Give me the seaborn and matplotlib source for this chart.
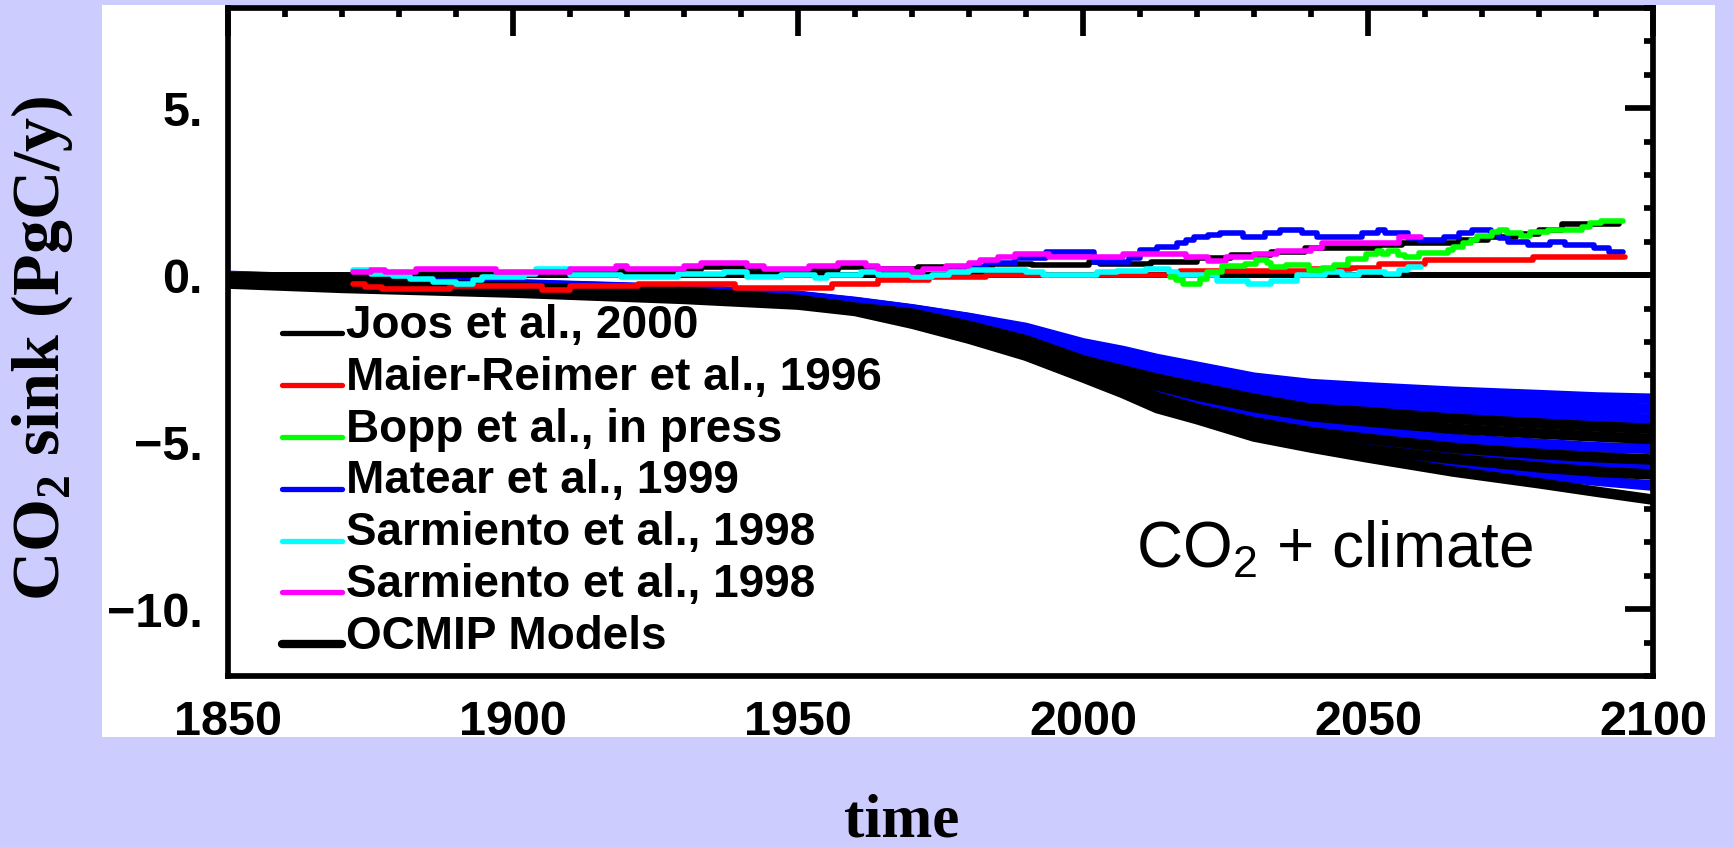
import numpy as np
import matplotlib
matplotlib.use("Agg")
import matplotlib.pyplot as plt
from matplotlib import font_manager
from matplotlib.lines import Line2D
from matplotlib.patches import Rectangle
from matplotlib.ticker import MultipleLocator, FuncFormatter
from matplotlib.legend_handler import HandlerLine2D
import seaborn as sns

# ---------------- data (PgC/y) ----------------
joos_years = [1850, 1878, 1905, 1918, 1920, 1930, 1933, 1941, 1952, 1957, 1962, 1971, 1984, 1991, 2001,
              2003, 2012, 2020, 2026, 2033, 2039, 2052, 2056, 2066, 2071, 2076, 2080, 2084, 2094]
joos_vals = [0.0, 0.03, 0.06, 0.15, 0.08, 0.15, 0.25, 0.15, 0.15, 0.25, 0.2, 0.25, 0.33, 0.3, 0.4,
             0.35, 0.39, 0.5, 0.6, 0.68, 0.82, 0.9, 0.97, 1.05, 1.13, 1.24, 1.36, 1.53, 1.53]

maier_years = [1872, 1874, 1877, 1889, 1905, 1910, 1922, 1939, 1956, 1964, 1973, 1983, 2017, 2040,
               2047, 2052, 2060, 2079, 2095]
maier_vals = [-0.25, -0.35, -0.42, -0.33, -0.43, -0.33, -0.25, -0.37, -0.25, -0.15, -0.06, 0.0, 0.12,
              0.2, 0.23, 0.35, 0.45, 0.55, 0.55]

bopp_years = [2015.2, 2016.3, 2017.6, 2020.5, 2021.7, 2024.3, 2028.4, 2030.4, 2032.2, 2033, 2035.6,
              2039.7, 2042, 2044, 2046.5, 2049.7, 2051.5, 2052.5, 2053.5, 2055.3, 2056.5, 2059, 2064,
              2064.9, 2066.6, 2068, 2069.2, 2071.8, 2073, 2074.3, 2076.8, 2078.5, 2081.5, 2087.6,
              2089, 2090.8, 2094.8]
bopp_vals = [-0.05, -0.15, -0.25, -0.12, 0.1, 0.27, 0.35, 0.46, 0.36, 0.26, 0.31, 0.17, 0.23, 0.32,
             0.48, 0.64, 0.73, 0.62, 0.73, 0.6, 0.53, 0.65, 0.76, 0.85, 0.95, 1.05, 1.16, 1.28, 1.36,
             1.26, 1.18, 1.3, 1.36, 1.45, 1.55, 1.62, 1.62]

matear_years = [1978, 1983, 1988, 1993.5, 2002, 2008, 2010, 2013, 2016.5, 2018, 2019.5, 2022, 2024,
                2028, 2032, 2034.5, 2038.5, 2041, 2049, 2051.7, 2053, 2057, 2059, 2063.3, 2066,
                2068.3, 2071.5, 2073, 2074.5, 2078, 2082, 2084.5, 2089.6, 2092.2, 2094.8]
matear_vals = [0.25, 0.38, 0.51, 0.68, 0.41, 0.51, 0.76, 0.85, 0.95, 1.05, 1.14, 1.2, 1.26, 1.15,
               1.25, 1.36, 1.25, 1.15, 1.25, 1.36, 1.25, 1.1, 1.05, 1.15, 1.25, 1.36, 1.25, 1.1, 1.0,
               0.9, 1.0, 0.9, 0.8, 0.7, 0.7]

sarm_a_years = [1872, 1875, 1879, 1882, 1886, 1890, 1893, 1894.5, 1902, 1904, 1910, 1919, 1929, 1937,
                1941, 1947, 1953, 1955, 1961, 1964, 1970, 1973.5, 1976.5, 1980, 1990, 1993, 2002.5,
                2006, 2011, 2015, 2016.5, 2023.5, 2029, 2033, 2037.5, 2042.5, 2045.5, 2048.5, 2053,
                2055.5, 2057, 2059.3]
sarm_a_vals = [0.15, 0.05, -0.02, -0.1, -0.2, -0.25, -0.15, -0.05, 0.05, 0.2, 0.02, -0.05, 0.05, 0.1,
               -0.04, 0.0, -0.08, 0.0, 0.1, 0.0, -0.05, 0.0, 0.1, 0.17, 0.1, 0.0, 0.1, 0.12, 0.2, 0.1,
               0.0, -0.18, -0.27, -0.18, 0.0, 0.1, 0.0, 0.1, 0.05, 0.15, 0.25, 0.25]

sarm_b_years = [1872, 1875, 1877.5, 1883, 1897, 1910, 1918, 1920, 1930, 1933, 1941, 1944, 1952, 1957,
                1962, 1964, 1970, 1972, 1976, 1980, 1982, 1985, 1988, 1994, 2007, 2018, 2022, 2025,
                2030, 2034, 2040, 2042, 2055.5, 2059.3]
sarm_b_vals = [0.09, 0.15, 0.1, 0.2, 0.1, 0.2, 0.28, 0.2, 0.28, 0.36, 0.28, 0.2, 0.28, 0.36, 0.28, 0.2,
               0.1, 0.2, 0.28, 0.36, 0.45, 0.53, 0.62, 0.53, 0.63, 0.53, 0.43, 0.54, 0.64, 0.71, 0.8,
               0.97, 1.14, 1.14]

# OCMIP model runs
ocmip_years = [1850, 1870, 1900, 1930, 1950, 1960, 1970, 1980, 1990, 2000, 2007, 2013, 2020, 2030,
               2040, 2050, 2065, 2080, 2090, 2100]
ocmip_blue_1 = [-0.02, -0.13, -0.27, -0.42, -0.62, -0.8, -1.02, -1.28, -1.58, -2.04, -2.27, -2.51,
                -2.74, -3.07, -3.26, -3.36, -3.49, -3.59, -3.66, -3.7]
ocmip_blue_2 = [-0.03, -0.14, -0.28, -0.43, -0.63, -0.81, -1.03, -1.29, -1.62, -2.15, -2.41, -2.66,
                -2.9, -3.24, -3.48, -3.58, -3.75, -3.87, -3.95, -4.0]
ocmip_blue_3 = [-0.04, -0.15, -0.29, -0.44, -0.64, -0.82, -1.04, -1.3, -1.67, -2.26, -2.56, -2.81,
                -3.06, -3.41, -3.71, -3.81, -4.01, -4.15, -4.24, -4.3]
ocmip_blue_4 = [-0.12, -0.26, -0.42, -0.58, -0.8, -1.0, -1.3, -1.7, -2.15, -2.75, -3.15, -3.52,
                -3.85, -4.2, -4.47, -4.65, -4.9, -5.05, -5.15, -5.2]
ocmip_blue_5 = [-0.16, -0.3, -0.46, -0.64, -0.82, -1.01, -1.35, -1.78, -2.27, -2.85, -3.3, -3.72,
                -4.02, -4.5, -4.85, -5.08, -5.35, -5.55, -5.65, -5.75]
ocmip_blue_6 = [-0.22, -0.35, -0.5, -0.68, -0.85, -1.04, -1.4, -1.85, -2.35, -2.98, -3.45, -3.9,
                -4.2, -4.7, -5.0, -5.3, -5.72, -5.98, -6.15, -6.3]
ocmip_black_1 = [-0.08, -0.2, -0.36, -0.5, -0.74, -0.97, -1.15, -1.52, -1.95, -2.55, -2.85, -3.1,
                 -3.35, -3.7, -4.0, -4.1, -4.3, -4.44, -4.53, -4.6]
ocmip_black_2 = [-0.1, -0.23, -0.4, -0.55, -0.78, -1.03, -1.22, -1.62, -2.05, -2.65, -3.0, -3.3,
                 -3.6, -3.95, -4.22, -4.38, -4.6, -4.74, -4.83, -4.9]
ocmip_black_3 = [-0.14, -0.28, -0.44, -0.61, -0.8, -1.0, -1.33, -1.75, -2.2, -2.8, -3.22, -3.65,
                 -4.0, -4.4, -4.7, -4.9, -5.17, -5.35, -5.45, -5.52]
ocmip_black_4 = [-0.19, -0.33, -0.48, -0.66, -0.83, -1.02, -1.38, -1.82, -2.32, -2.92, -3.4, -3.82,
                 -4.12, -4.62, -4.95, -5.22, -5.5, -5.75, -5.88, -5.97]
ocmip_black_5 = [-0.25, -0.38, -0.52, -0.71, -0.88, -1.07, -1.45, -1.9, -2.41, -3.06, -3.53, -3.98,
                 -4.31, -4.83, -5.16, -5.46, -5.88, -6.23, -6.48, -6.72]

labels = ["Joos et al., 2000", "Maier-Reimer et al., 1996", "Bopp et al., in press",
          "Matear et al., 1999", "Sarmiento et al., 1998", "Sarmiento et al., 1998", "OCMIP Models"]
x_ticks = [1850, 1900, 1950, 2000, 2050, 2100]

# ---------------- styling ----------------
sns.set_theme(style="white")
available = {f.name for f in font_manager.fontManager.ttflist}
narrow = "Liberation Sans Narrow" if "Liberation Sans Narrow" in available else "Liberation Sans"
plt.rcParams["font.family"] = ["Liberation Sans", "DejaVu Sans"]
plt.rcParams["font.weight"] = "bold"
plt.rcParams["axes.unicode_minus"] = True
for key in ["text.color", "axes.labelcolor", "xtick.color", "ytick.color", "axes.edgecolor"]:
    plt.rcParams[key] = "black"

W, H = 1734, 847
fig = plt.figure(figsize=(W / 100, H / 100), dpi=100, facecolor="#CCCCFF")
fig.patches.append(Rectangle((102 / W, 1 - 737 / H), (1715 - 102) / W, (737 - 5) / H,
                             transform=fig.transFigure, facecolor="white", edgecolor="none",
                             zorder=-5))
ax = fig.add_axes([228 / W, 1 - 676 / H, (1653 - 228) / W, (676 - 8) / H])
ax.set_facecolor("white")

BUNDLE_LW = 7.6
LINE_LW = 4.0

for vals in [ocmip_blue_1, ocmip_blue_2, ocmip_blue_3, ocmip_blue_4, ocmip_blue_5, ocmip_blue_6]:
    sns.lineplot(x=ocmip_years, y=vals, color="#0000FF", lw=BUNDLE_LW, ax=ax,
                 estimator=None, sort=False, zorder=2)
ocmip_handle = None
for vals in [ocmip_black_1, ocmip_black_2, ocmip_black_3, ocmip_black_4, ocmip_black_5]:
    sns.lineplot(x=ocmip_years, y=vals, color="black", lw=BUNDLE_LW, ax=ax,
                 estimator=None, sort=False, zorder=2.1)
    ocmip_handle = ax.get_lines()[-1]

ax.axhline(0, color="black", lw=4.3, zorder=2.2)


def step_line(xs, ys, color, z):
    sns.lineplot(x=xs, y=ys, color=color, lw=LINE_LW, ax=ax, estimator=None, sort=False,
                 drawstyle="steps-post", zorder=z)
    return ax.get_lines()[-1]


h_joos = step_line(joos_years, joos_vals, "black", 3.0)
h_matear = step_line(matear_years, matear_vals, "#0000FF", 3.1)
h_maier = step_line(maier_years, maier_vals, "#FF0000", 3.2)
h_sa = step_line(sarm_a_years, sarm_a_vals, "#00FFFF", 3.3)
h_sb = step_line(sarm_b_years, sarm_b_vals, "#FF00FF", 3.4)
h_bopp = step_line(bopp_years, bopp_vals, "#00FF00", 3.5)

ax.set_xlim(1850, 2100)
ax.set_ylim(-12, 8)
ax.set_xlabel("")
ax.set_ylabel("")
ax.xaxis.set_major_locator(MultipleLocator(50))
ax.xaxis.set_minor_locator(MultipleLocator(10))
ax.yaxis.set_major_locator(MultipleLocator(5))
ax.yaxis.set_minor_locator(MultipleLocator(1))
ax.set_xticks(x_ticks)
ax.xaxis.set_major_formatter(FuncFormatter(lambda v, p: f"{v:.0f}"))
ax.yaxis.set_major_formatter(FuncFormatter(lambda v, p: f"{v:.0f}.".replace("-", "\u2212")))
ax.tick_params(which="both", direction="in", top=True, right=True, width=4.1, color="black")
ax.tick_params(which="major", length=20)
ax.tick_params(which="minor", length=6.5)
ax.tick_params(axis="x", which="major", pad=17, labelsize=35, labelcolor="black")
ax.tick_params(axis="y", which="major", pad=18, labelsize=35, labelcolor="black")
for lab in ax.get_xticklabels() + ax.get_yticklabels():
    lab.set_fontweight("bold")
for sp in ax.spines.values():
    sp.set_linewidth(4.1)
    sp.set_color("black")
    sp.set_zorder(5)


class BaselineLine(HandlerLine2D):
    """Legend key drawn along the text baseline."""

    def create_artists(self, legend, orig_handle, xdescent, ydescent, width, height, fontsize, trans):
        arts = super().create_artists(legend, orig_handle, xdescent, ydescent, width, height,
                                      fontsize, trans)
        for a in arts:
            a.set_ydata(np.full_like(np.asarray(a.get_xdata(), dtype=float), 0.1 * fontsize))
        return arts


handles = [h_joos, h_maier, h_bopp, h_matear, h_sa, h_sb, ocmip_handle]
leg = ax.legend(handles, labels, loc="upper left", bbox_to_anchor=(0.0378, 0.557), frameon=False,
                borderpad=0, borderaxespad=0, handlelength=1.31, handletextpad=0.08,
                labelspacing=0.17, prop=dict(family="Liberation Sans", weight="bold", size=33),
                handler_map={Line2D: BaselineLine()})
for t in leg.get_texts():
    t.set_color("black")
for lh in leg.legend_handles[:-1]:
    lh.set_linewidth(3.8)
leg.legend_handles[-1].set_linewidth(6.0)

ax.text(0.637, 0.163, r"CO$_\mathregular{2}$ + climate", transform=ax.transAxes, ha="left",
        va="baseline", fontsize=46, fontweight="normal", family=[narrow, "DejaVu Sans"], zorder=6,
        color="black")

fig.text(42 / W, 1 - 348 / H, r"CO$_\mathregular{2}$ sink (PgC/y)", rotation=90, ha="center",
         va="center", fontsize=49, fontweight="bold", family=["Liberation Serif", "DejaVu Serif"],
         color="black")
fig.text(902 / W, 1 - 836 / H, "time", ha="center", va="baseline", fontsize=44,
         fontweight="bold", family=["Liberation Serif", "DejaVu Serif"], color="black")

fig.savefig("out.png", dpi=100, facecolor=fig.get_facecolor())
